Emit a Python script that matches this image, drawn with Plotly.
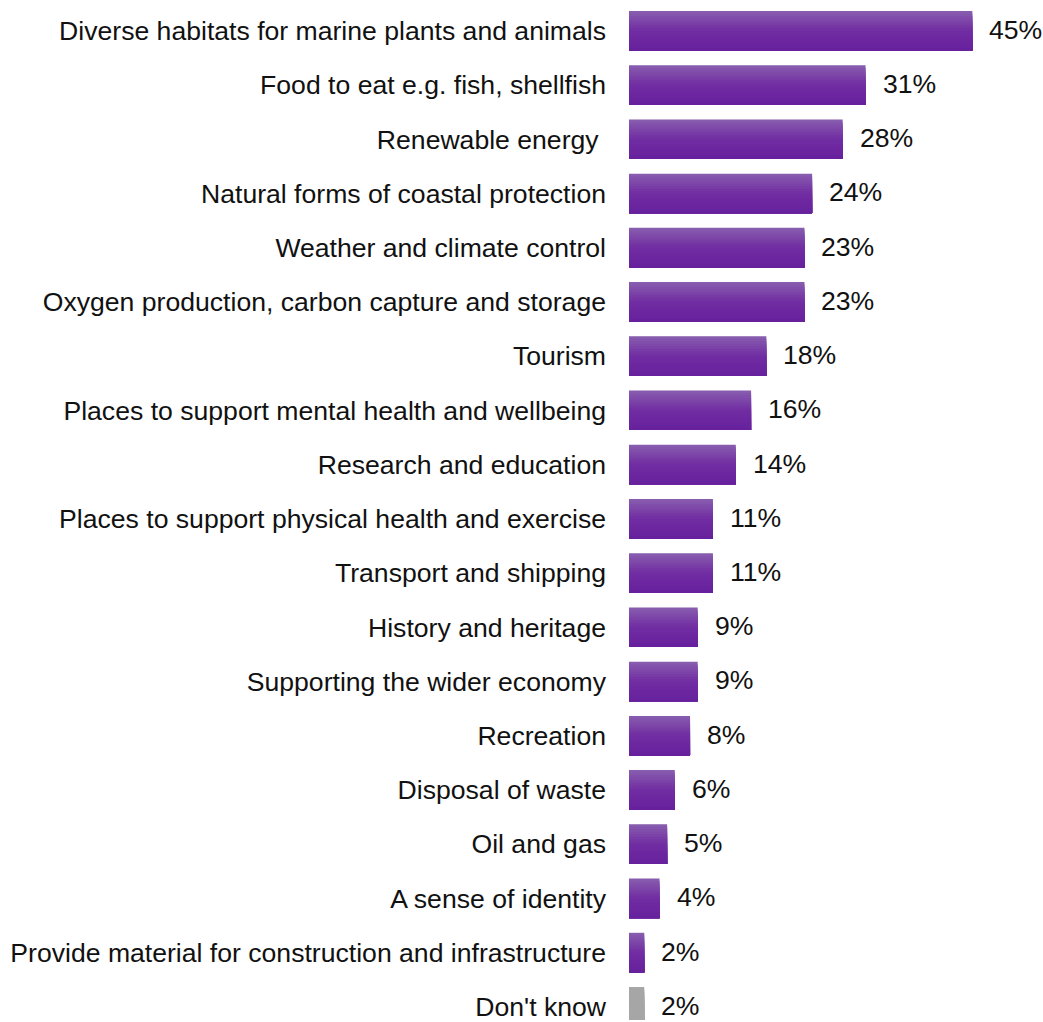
import plotly.graph_objects as go

# Survey responses: perceived benefits of the marine environment
categories = [
    "Diverse habitats for marine plants and animals",
    "Food to eat e.g. fish, shellfish",
    "Renewable energy ",
    "Natural forms of coastal protection",
    "Weather and climate control",
    "Oxygen production, carbon capture and storage",
    "Tourism",
    "Places to support mental health and wellbeing",
    "Research and education",
    "Places to support physical health and exercise",
    "Transport and shipping",
    "History and heritage",
    "Supporting the wider economy",
    "Recreation",
    "Disposal of waste",
    "Oil and gas",
    "A sense of identity",
    "Provide material for construction and infrastructure",
    "Don't know",
]
values = [45, 31, 28, 24, 23, 23, 18, 16, 14, 11, 11, 9, 9, 8, 6, 5, 4, 2, 2]
labels = [f"{v}%" for v in values]

positions = list(range(len(categories)))
BAR_W = 0.73
GREY = "#a6a6a6"
TEXT = "#111111"
FONT = "Liberation Sans, Arial, sans-serif"
FONT_SIZE = 26.6

# vertical shading of the purple bars: lighter at the top edge, deeper below
TOP = (0x87, 0x5b, 0xae)
MID = (0x71, 0x2d, 0xa2)
BOT = (0x67, 0x21, 0x9d)


def mix(a, b, t):
    return "rgb(%d,%d,%d)" % tuple(round(a[i] + (b[i] - a[i]) * t) for i in range(3))


def shade(t):
    if t < 0.5:
        return mix(TOP, MID, t / 0.5)
    return mix(MID, BOT, (t - 0.5) / 0.5)


is_grey = [c == "Don't know" for c in categories]

fig = go.Figure()

# each band runs from its own top edge down to the bar's bottom edge,
# so later (darker) bands cover the lower part without seams
N_BANDS = 16
band_h = BAR_W / N_BANDS
for i in range(N_BANDS):
    t = i / (N_BANDS - 1)
    fig.add_trace(go.Bar(
        x=values, y=positions, orientation="h",
        width=BAR_W - i * band_h, offset=-BAR_W / 2 + i * band_h,
        marker=dict(color=[GREY if g else shade(t) for g in is_grey], line=dict(width=0)),
        hoverinfo="skip",
    ))

# value labels to the right of each bar
for p, v, lab in zip(positions, values, labels):
    fig.add_annotation(
        x=v, y=p, text=lab, showarrow=False,
        xanchor="left", yanchor="middle", xshift=15, yshift=1,
        font=dict(family=FONT, size=FONT_SIZE, color=TEXT),
    )

fig.update_layout(
    width=1043, height=1022,
    margin=dict(l=629, r=0, t=0, b=0),
    paper_bgcolor="white", plot_bgcolor="white",
    barmode="overlay", showlegend=False,
    font=dict(family=FONT, size=FONT_SIZE, color=TEXT),
    xaxis=dict(range=[0, 54.26], visible=False, showgrid=False, zeroline=False),
    yaxis=dict(
        range=[18.243, -0.567],
        tickvals=positions, ticktext=categories,
        showgrid=False, zeroline=False, showline=False,
        ticks="", ticklabelstandoff=22, ticklabeloverflow="allow",
        tickfont=dict(family=FONT, size=FONT_SIZE, color=TEXT),
    ),
)

fig.write_html("out.html")
